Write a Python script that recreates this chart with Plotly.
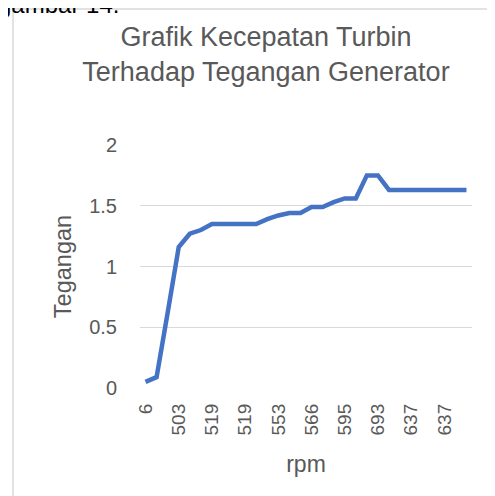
import plotly.graph_objects as go

# tegangan (V) per pembacaan, rpm label ditampilkan tiap 3 titik
tegangan = [0.05, 0.09, 0.62, 1.16, 1.27, 1.30, 1.35, 1.35, 1.35, 1.35,
            1.35, 1.39, 1.42, 1.44, 1.44, 1.49, 1.49, 1.53, 1.56, 1.56,
            1.75, 1.75, 1.63, 1.63, 1.63, 1.63, 1.63, 1.63, 1.63, 1.63]
rpm_labels = ["6", "503", "519", "519", "553", "566", "595", "693", "637", "637"]
y_ticks = [0, 0.5, 1, 1.5, 2]
y_ticktext = ["0", "0.5", "1", "1.5", "2"]

idx = list(range(len(tegangan)))
gray = "#595959"
font = "Liberation Sans, Arial, sans-serif"

fig = go.Figure()
fig.add_trace(go.Scatter(x=idx, y=tegangan, mode="lines",
                         line=dict(color="#4472C4", width=4.5),
                         hoverinfo="skip", showlegend=False))

# halaman punya margin body 8px, jadi semua digeser 8px ke kiri/atas
fig.update_layout(
    width=495, height=496,
    margin=dict(l=132, r=31, t=137, b=116, autoexpand=False),
    paper_bgcolor="white", plot_bgcolor="white",
    font=dict(family=font, color=gray),
    title=dict(text="Grafik Kecepatan Turbin<br>Terhadap Tegangan Generator",
               x=(266 - 8) / 495, xanchor="center", xref="container",
               y=1 - 38/496, yanchor="top", yref="container",
               font=dict(size=27, color=gray)),
    xaxis=dict(range=[-0.5, len(tegangan) - 0.5], automargin=False,
               tickvals=idx[::3], ticktext=rpm_labels, tickangle=-90,
               tickfont=dict(size=19, color=gray),
               showgrid=False, zeroline=False,
               showline=False, ticks="", ticklabelstandoff=11,
               title=dict(text="rpm", font=dict(size=23, color=gray), standoff=21)),
    yaxis=dict(range=[0, 2], tickvals=y_ticks, ticktext=y_ticktext, automargin=False,
               tickfont=dict(size=20, color=gray),
               showgrid=True, gridcolor="#D9D9D9", gridwidth=1,
               zeroline=False, showline=False, ticks="",
               ticklabelstandoff=22,
               title=dict(text="Tegangan", font=dict(size=23.5, color=gray), standoff=10)),
)

# bingkai area grafik
fig.add_shape(type="rect", xref="paper", yref="paper",
              x0=(13 - 140) / 332, x1=1.3, y0=-0.7, y1=(388 - 9) / 243,
              line=dict(color="#D9D9D9", width=1.5), fillcolor="rgba(0,0,0,0)",
              layer="below")

# teks dokumen di atas grafik, terpotong di tepi atas seperti aslinya
fig.add_annotation(text="gambar 14.", xref="paper", yref="paper",
                   x=(-4 - 140) / 332, y=(388 - 20) / 243,
                   xanchor="left", yanchor="bottom", showarrow=False,
                   font=dict(family=font, size=24, color="black"))

fig.write_html("out.html")
